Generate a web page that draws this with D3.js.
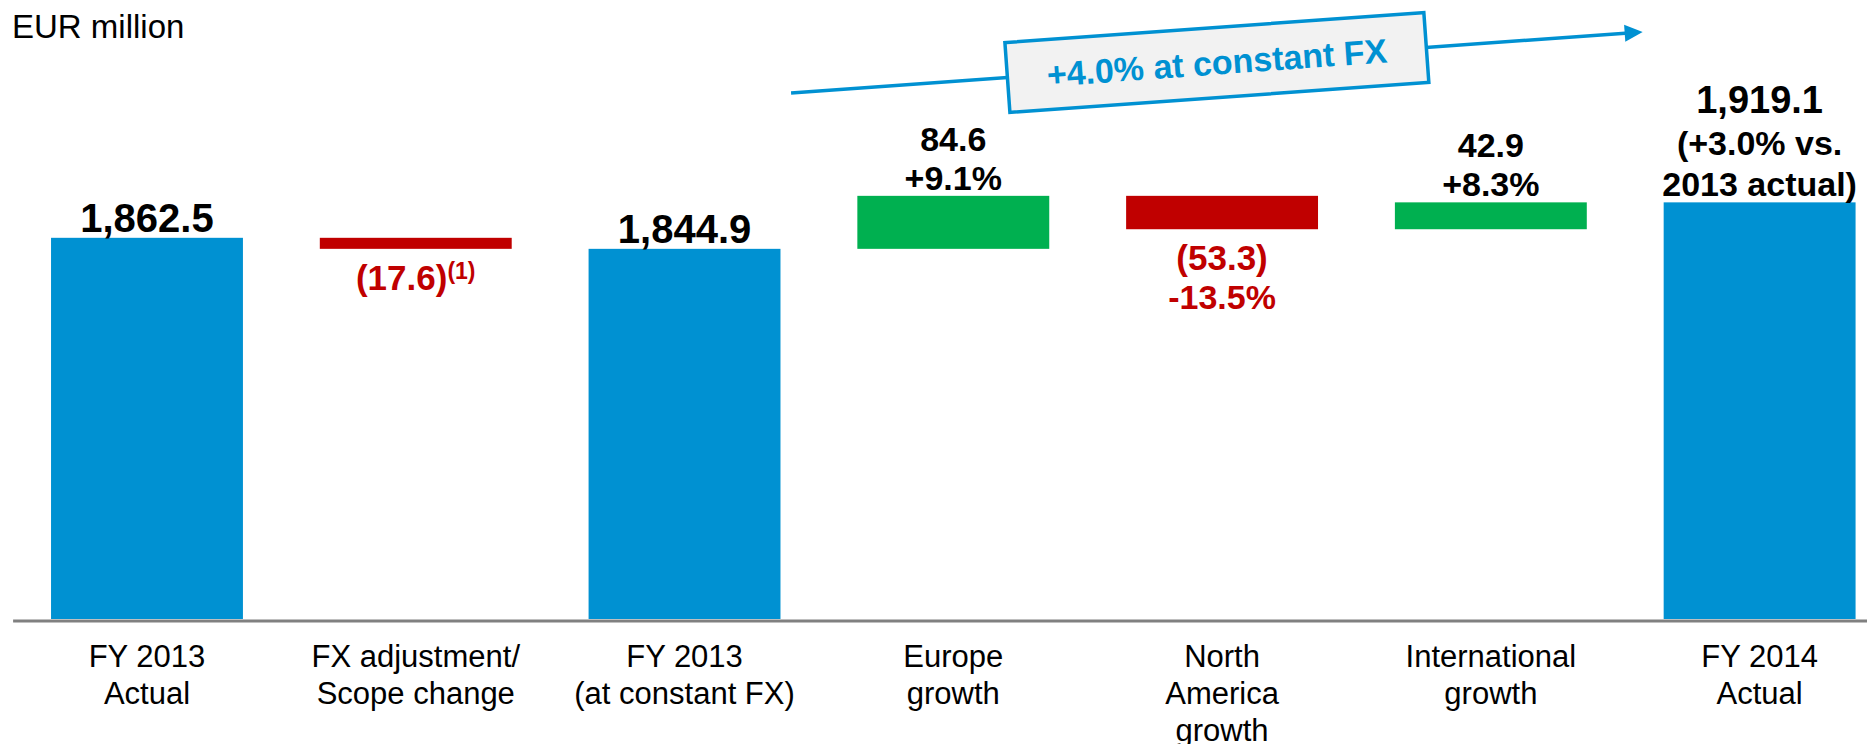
<!DOCTYPE html>
<html>
<head>
<meta charset="utf-8">
<script src="https://cdn.jsdelivr.net/npm/d3@7"></script>
<style>
  html, body { margin: 0; padding: 0; background: #fff; }
  svg { display: block; font-family: "Liberation Sans", Arial, sans-serif; }
</style>
</head>
<body>
<div id="chart"></div>
<script>
// categories, one entry per bar (line breaks as in the slide)
var categories = ["FY 2013\nActual", "FX adjustment/\nScope change", "FY 2013\n(at constant FX)",
                  "Europe\ngrowth", "North\nAmerica\ngrowth", "International\ngrowth", "FY 2014\nActual"];
// totals are absolute, deltas are changes from the running total
var kinds = ["total", "delta", "total", "delta", "delta", "delta", "total"];
var values = [1862.5, -17.6, 1844.9, 84.6, -53.3, 42.9, 1919.1];
var growthLabels = [null, null, null, "+9.1%", "-13.5%", "+8.3%", "(+3.0% vs.\n2013 actual)"];
var footnotes = [null, "(1)", null, null, null, null, null];
var unitLabel = "EUR million";
var bridgeNote = "+4.0% at constant FX";

var W = 1867, H = 744;
var blue = "#0091d2", green = "#00b050", red = "#c00000";

var svg = d3.select("#chart").append("svg").attr("width", W).attr("height", H);

var x = d3.scaleBand().domain(d3.range(categories.length))
    .range([12.6, 1894]).paddingInner(0.286).paddingOuter(0.143);
var y = d3.scaleLinear().domain([1254, 1950]).range([619, 183]);
var bw = x.bandwidth();

// running totals for the bridge
var running = 0;
var bars = values.map(function(v, i){
    var b = {i: i, kind: kinds[i], value: v};
    if (kinds[i] == "total") { b.start = y.domain()[0]; b.end = v; running = v; }
    else { b.start = running; b.end = running + v; running = running + v; }
    return b;
});

function barColor(b){
    if (b.kind == "total") return blue;
    return b.value >= 0 ? green : red;
}

svg.selectAll("rect.bar").data(bars).enter().append("rect")
    .attr("class", "bar")
    .attr("x", function(d){ return x(d.i); })
    .attr("width", bw)
    .attr("y", function(d){ return y(Math.max(d.start, d.end)); })
    .attr("height", function(d){ return Math.abs(y(d.start) - y(d.end)); })
    .style("fill", barColor);

// baseline axis
var axis = svg.append("g").attr("transform", "translate(0,620.5)")
    .call(d3.axisBottom(x).tickSize(0).tickFormat(""));
axis.select(".domain").attr("stroke", "#808080").attr("stroke-width", 3);

// category labels
axis.selectAll(".tick text").remove();
axis.selectAll(".tick").append("text")
    .attr("text-anchor", "middle")
    .attr("fill", "#000")
    .style("font-size", "31px")
    .style("font-family", "'Liberation Sans', Arial, sans-serif")
    .each(function(d){
        var t = d3.select(this);
        categories[d].split("\n").forEach(function(line, k){
            t.append("tspan").attr("x", 0).attr("y", 46.5 + k * 37).text(line);
        });
    });

// value labels
var fmt = d3.format(",.1f");
bars.forEach(function(b){
    var cx = x(b.i) + bw / 2;
    var g = svg.append("g").attr("text-anchor", "middle").style("font-weight", "bold");
    var extra = growthLabels[b.i] ? growthLabels[b.i].split("\n") : [];
    if (b.kind == "total") {
        var top = y(b.end);
        extra.slice().reverse().forEach(function(line, k){
            g.append("text").attr("x", cx).attr("y", top - 6 - k * 41)
                .style("font-size", "34px").attr("fill", "#000").text(line);
        });
        g.append("text").attr("x", cx).attr("y", top - 6 - extra.length * 41.5)
            .style("font-size", extra.length ? "38px" : "40px").attr("fill", "#000")
            .text(fmt(b.value));
    } else if (b.value >= 0) {
        var t2 = y(b.end);
        g.append("text").attr("x", cx).attr("y", t2 - 45)
            .style("font-size", "34px").attr("fill", "#000").text(fmt(b.value));
        g.append("text").attr("x", cx).attr("y", t2 - 6)
            .style("font-size", "34px").attr("fill", "#000").text(extra[0]);
    } else {
        var bot = y(b.end);
        var lab = g.append("text").attr("x", cx).attr("y", bot + 41)
            .style("font-size", "35px").attr("fill", red);
        lab.append("tspan").text("(" + fmt(-b.value) + ")");
        if (footnotes[b.i]) {
            lab.append("tspan").attr("dy", -11).style("font-size", "23px").text(footnotes[b.i]);
        }
        if (extra.length) {
            g.append("text").attr("x", cx).attr("y", bot + 80)
                .style("font-size", "34px").attr("fill", red).text(extra[0]);
        }
    }
});

// unit label
svg.append("text").attr("x", 12).attr("y", 38)
    .style("font-size", "33px").attr("fill", "#000").text(unitLabel);

// constant FX arrow with callout box
var x1 = x(2) + bw + 10.6, y1 = 93, x2 = x(6) - 21, y2 = 32;
var ang = Math.atan2(y2 - y1, x2 - x1);
svg.append("line").attr("x1", x1).attr("y1", y1)
    .attr("x2", x2 - 14 * Math.cos(ang)).attr("y2", y2 - 14 * Math.sin(ang))
    .attr("stroke", blue).attr("stroke-width", 3.5);
var head = [[0, 0], [-18, -8.5], [-18, 8.5]].map(function(p){
    return [x2 + p[0] * Math.cos(ang) - p[1] * Math.sin(ang),
            y2 + p[0] * Math.sin(ang) + p[1] * Math.cos(ang)];
});
svg.append("polygon").attr("points", head.map(function(p){ return p.join(","); }).join(" "))
    .attr("fill", blue);

var box = svg.append("g")
    .attr("transform", "translate(" + (x1 + x2) / 2 + "," + (y1 + y2) / 2 + ") rotate(" + ang * 180 / Math.PI + ")");
box.append("rect").attr("x", -210).attr("y", -35).attr("width", 420).attr("height", 70)
    .attr("fill", "#f2f2f2").attr("stroke", blue).attr("stroke-width", 3.5);
box.append("text").attr("x", 0).attr("y", 12).attr("text-anchor", "middle")
    .style("font-size", "34px").style("font-weight", "bold").attr("fill", blue)
    .text(bridgeNote);
</script>
</body>
</html>
